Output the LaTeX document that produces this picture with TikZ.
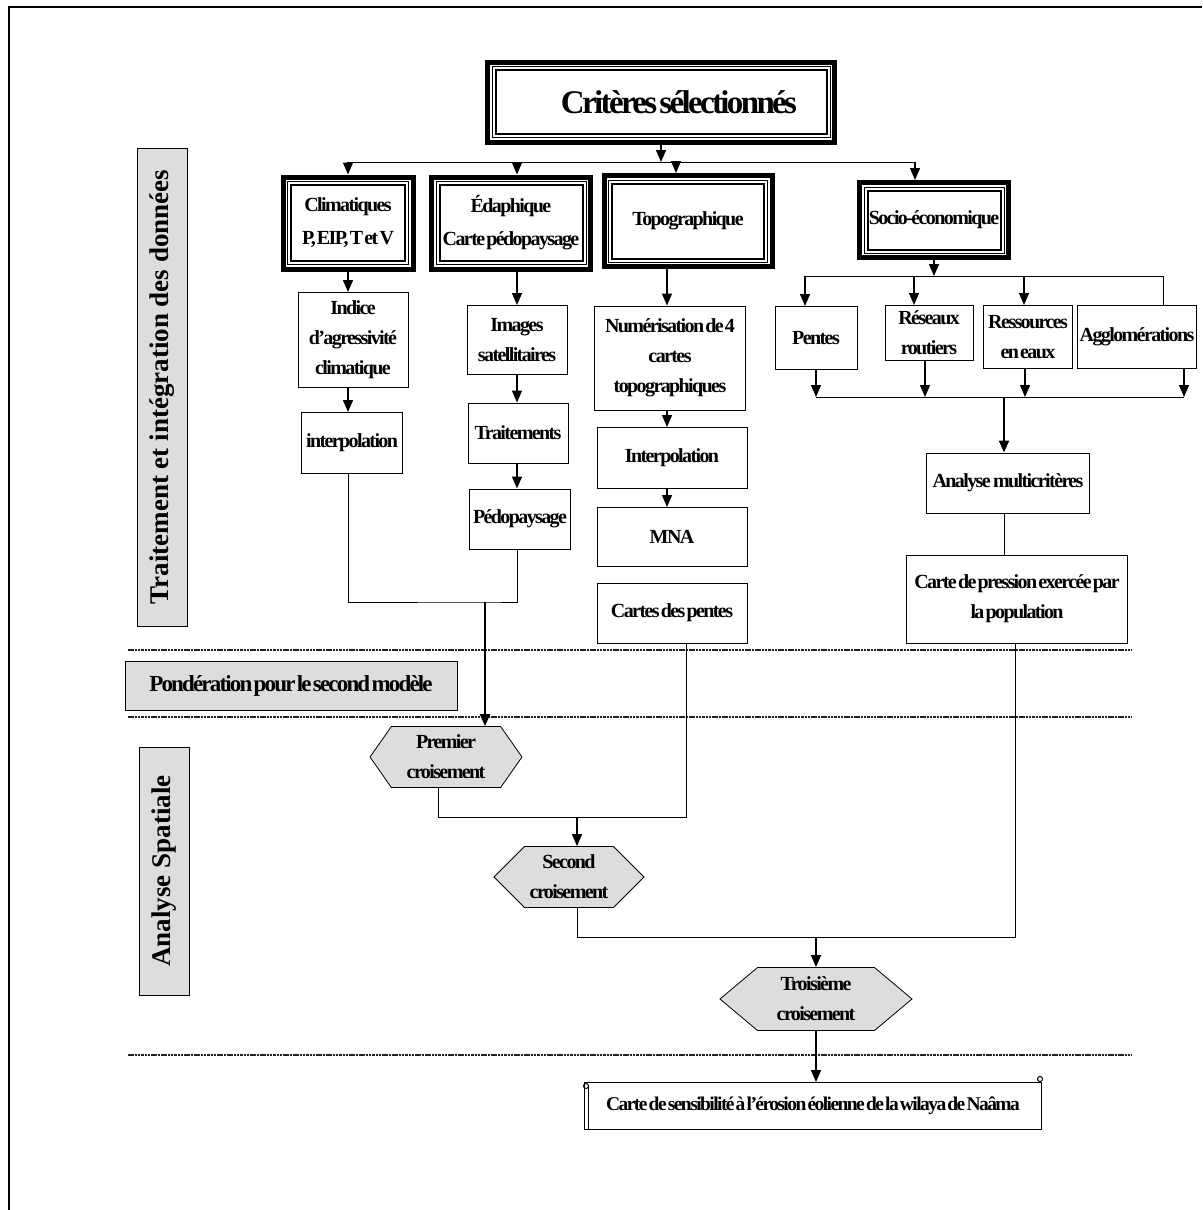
\documentclass[tikz,border=0pt]{standalone}
\usepackage{fontspec}
\setmainfont{Liberation Serif}
\newfontfamily\serre{Liberation Serif}[LetterSpace=-8,WordSpace=0.35]
\usepackage{tikz}
\usetikzlibrary{positioning,arrows.meta,shapes.geometric,shapes.symbols,calc}
\definecolor{ink}{HTML}{000000}
\definecolor{grisbg}{HTML}{DDDDDD}
\definecolor{sepgray}{HTML}{222222}
\tikzset{
  blk/.style={draw=ink,align=center,inner sep=2pt,line width=1pt,fill=white,
              font=\serre\bfseries\fontsize{20}{30}\selectfont},
  cadre/.style={blk,line width=5pt,
    path picture={\draw[line width=1pt] ([shift={(4.5pt,-4.5pt)}]path picture bounding box.north west)
                  rectangle ([shift={(-4.5pt,4.5pt)}]path picture bounding box.south east);
                  \draw[line width=2pt] ([shift={(8pt,-8pt)}]path picture bounding box.north west)
                  rectangle ([shift={(-8pt,8pt)}]path picture bounding box.south east);}},
  hexa/.style={blk,fill=grisbg,signal,signal to=east and west,inner sep=0pt,line width=0.8pt},
  lbl/.style={draw=ink,fill=grisbg,line width=1pt,inner sep=2pt,
              font=\bfseries\fontsize{27}{30}\selectfont},
}

\begin{document}
\begin{tikzpicture}[x=1pt,y=-1pt]
\useasboundingbox (0,0) rectangle (1202,1210);

\tikzset{
  a/.style={-{Triangle[length=12pt,width=10pt]},line width=1.4pt,draw=ink},
  ab/.style={a,line width=2.2pt},
  ln/.style={line width=1pt,draw=ink},
  sep/.style={draw=sepgray,line width=1.8pt,dash pattern=on 2.5pt off 0.8pt},
}

% ---- page frame and separators
\draw[line width=2.5pt] (9,1210) -- (9,7) -- (1202,7);
\foreach \y in {650,717,1055} \draw[sep] (128,\y) -- (1132,\y);

% ---- side labels
\node[lbl,rotate=90,minimum width=478,minimum height=50] (ltrait) at (162,387) {Traitement et intégration des données};
\node[lbl,font=\serre\bfseries\fontsize{23}{24}\selectfont,minimum width=332,minimum height=49] (lpond) at (291,686) {Pondération pour le second modèle};
\node[lbl,rotate=90,minimum width=248,minimum height=50] (lspat) at (164,871) {Analyse Spatiale};

% ---- criteria
\node[cadre,font=\serre\bfseries\fontsize{33}{36}\selectfont,minimum width=347,minimum height=80] (crit) at (661,102) {\hspace*{36pt}Critères sélectionnés};
\node[cadre,minimum width=130,minimum height=92] (clim) at (348,223) {Climatiques\\[3pt]P, EIP, T et V};
\node[cadre,minimum width=159,minimum height=92] (edaph) at (511,223) {Édaphique\\[3pt]Carte pédopaysage};
\node[cadre,minimum width=168,minimum height=91] (topo) at (688,221) {Topographique};
\node[cadre,minimum width=149,minimum height=75] (socio) at (934,220) {Socio-économique};

\coordinate (bh) at (0,162);
\draw[ln] (clim.north |- bh) -- ($(socio.north |- bh)+(-19,0)$);
\draw[a] (crit.south) -- (crit.south |- bh);
\draw[a] (clim.north |- bh) -- (clim.north);
\draw[a] ($(edaph.north |- bh)+(6,0)$) -- ($(edaph.north)+(6,0)$);
\draw[a] ($(topo.north |- bh)+(-12,0)$) -- ($(topo.north)+(-12,0)$);
\draw[a] ($(socio.north |- bh)+(-19,0)$) -- ($(socio.north)+(-19,0)$);

% ---- climatic column
\node[blk,minimum width=110,minimum height=95] (indice) at (353,340) {Indice\\d’agressivité\\climatique};
\node[blk,minimum width=101,minimum height=61] (interpA) at (352,443) {interpolation};
\draw[a] (clim.south) -- (clim.south |- indice.north);
\draw[a] (clim.south |- indice.south) -- (clim.south |- interpA.north);

% ---- soil column
\coordinate (ed) at ($(edaph.south)+(6,0)$);
\node[blk,minimum width=100,minimum height=69] (imgs) at (517,340) {Images\\satellitaires};
\node[blk,minimum width=100,minimum height=60] (trait) at (518,433) {Traitements};
\node[blk,minimum width=101,minimum height=60] (pedo) at (520,519) {Pédopaysage};
\draw[a] (ed) -- (ed |- imgs.north);
\draw[a] (ed |- imgs.south) -- (ed |- trait.north);
\draw[a] (ed |- trait.south) -- (ed |- pedo.north);

% ---- topographic column
\coordinate (tp) at ($(topo.south)+(-21,0)$);
\node[blk,minimum width=151,minimum height=104] (numer) at (670,358) {Numérisation de 4\\cartes\\topographiques};
\node[blk,minimum width=150,minimum height=61] (interpB) at (672,458) {Interpolation};
\node[blk,minimum width=150,minimum height=59] (mna) at (672,537) {MNA};
\node[blk,minimum width=150,minimum height=60] (pentesC) at (672,613) {Cartes des pentes};
\draw[a] (tp) -- (tp |- numer.north);
\draw[a] (tp |- numer.south) -- (tp |- interpB.north);
\draw[a] (tp |- interpB.south) -- (tp |- mna.north);

% ---- socio-economic branch
\node[blk,minimum width=82,minimum height=63] (pentes) at (816,338) {Pentes};
\node[blk,minimum width=88,minimum height=55] (reseaux) at (929,333) {Réseaux\\routiers};
\node[blk,minimum width=89,minimum height=63] (ress) at (1028,337) {Ressources\\en eaux};
\node[blk,minimum width=119,minimum height=63] (agglo) at (1137,337) {Agglomérations};
\coordinate (sb) at (0,276);
\coordinate (bb) at (0,397);
\draw[a] (socio.south) -- (socio.south |- sb);
\draw[ln] ($(pentes.north |- sb)+(-11,0)$) -- ($(agglo.north |- sb)+(26,0)$) -- ($(agglo.north)+(26,0)$);
\foreach \n/\dx in {pentes/-11,reseaux/-15,ress/-4}
  \draw[a] ($(\n.north |- sb)+(\dx,0)$) -- ($(\n.north)+(\dx,0)$);
\draw[ln] (pentes.south |- bb) -- ($(agglo.south |- bb)+(47,0)$);
\foreach \n/\dx in {pentes/0,reseaux/-4,ress/-3,agglo/47}
  \draw[a] ($(\n.south)+(\dx,0)$) -- ($(\n.south |- bb)+(\dx,0)$);

\node[blk,minimum width=163,minimum height=60] (analyse) at (1008,483) {Analyse~ multicritères};
\node[blk,minimum width=221,minimum height=88] (pression) at (1017,599) {Carte de pression exercée par\\la population};
\draw[ab] ($(analyse.north |- bb)+(-4,0)$) -- ($(analyse.north)+(-4,0)$);
\draw[ln] ($(analyse.south)+(-4,0)$) -- ($(analyse.south |- pression.north)+(-4,0)$);

% ---- spatial analysis
\node[hexa,signal pointer angle=110,minimum width=152,minimum height=61] (prem) at (446,757) {Premier\\croisement};
\node[hexa,signal pointer angle=90,minimum width=150,minimum height=61] (sec) at (569,877) {Second\\croisement};
\node[hexa,signal pointer angle=80,minimum width=192,minimum height=63] (trois) at (816,999) {Troisième\\croisement};

\coordinate (j1) at (485,602);
\coordinate (j2) at (577,817);
\coordinate (j3) at (816,937);
\draw[ln] ($(interpA.south)+(-4,0)$) |- (j1) -| (ed |- pedo.south);
\draw[ab] (j1) -- (j1 |- prem.north);
\draw[ln] ($(prem.south)+(-8,0)$) |- (j2) -| ($(pentesC.south)+(14,0)$);
\draw[a] (j2) -- (j2 |- sec.north);
\draw[ln] ($(sec.south)+(8,0)$) |- (j3) -| ($(pression.south)+(-2,0)$);
\draw[a] (j3) -- (trois.north);

% ---- final map (scroll)
\node[blk,minimum width=457,minimum height=47,font=\serre\bfseries\fontsize{19.5}{20}\selectfont] (carte) at (813,1106) {Carte de sensibilité à l’érosion éolienne de la wilaya de Naâma};
\draw[ln] ($(carte.north west)+(4,3)$) -- ($(carte.south west)+(4,0)$);
\draw[ln] ($(carte.north west)+(2,4)$) circle (2.5);
\draw[ln] ($(carte.north east)+(-2,-3)$) circle (2.5);
\draw[a] (trois.south) -- (trois.south |- carte.north);

\end{tikzpicture}
\end{document}
